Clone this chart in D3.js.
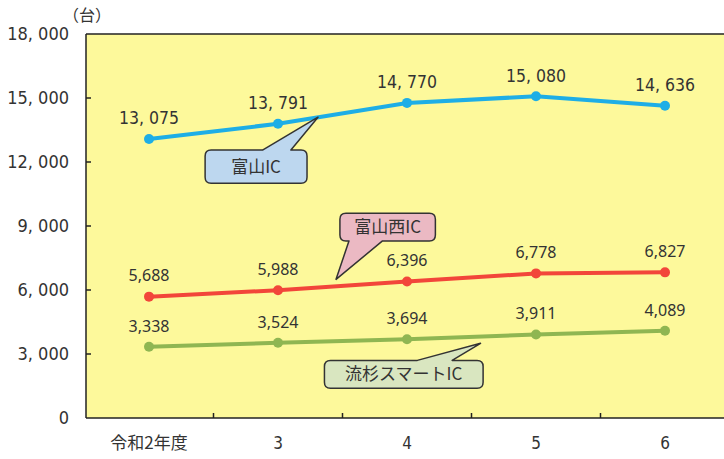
<!DOCTYPE html>
<html><head><meta charset="utf-8">
<script src="https://cdn.jsdelivr.net/npm/d3@7"></script>
<style>
body{margin:0;background:#fff;}
svg{display:block;}
</style></head>
<body>
<svg id="chart" width="724" height="459"></svg>
<script>
const categories = ["令和2年度", "3", "4", "5", "6"];
const toyamaIC = [13075, 13791, 14770, 15080, 14636];
const toyamaNishiIC = [5688, 5988, 6396, 6778, 6827];
const nagareSugiIC = [3338, 3524, 3694, 3911, 4089];
const yTicks = [0, 3000, 6000, 9000, 12000, 15000, 18000];
const seriesNames = ["富山IC", "富山西IC", "流杉スマートIC"];
const unitLabel = "（台）";

(function () {
const svg = d3.select("#chart");
const pLeft = 86, pTop = 34, pBottom = 418, pRight = 724;

const x = d3.scaleBand().domain(categories).range([84.5, 729.5]);
const y = d3.scaleLinear().domain([0, 18000]).range([pBottom, pTop]);
const cx = c => x(c) + x.bandwidth() / 2;

svg.append("rect").attr("x", pLeft).attr("y", pTop).attr("width", pRight - pLeft).attr("height", pBottom - pTop)
  .attr("fill", "#fdf99b");
svg.append("line").attr("x1", pLeft).attr("x2", pRight).attr("y1", pTop).attr("y2", pTop).attr("stroke", "#222").attr("stroke-width", 1.5);
svg.append("line").attr("x1", pLeft).attr("x2", pRight).attr("y1", pBottom).attr("y2", pBottom).attr("stroke", "#222").attr("stroke-width", 1.5);
svg.append("line").attr("x1", pLeft).attr("x2", pLeft).attr("y1", pTop).attr("y2", pBottom).attr("stroke", "#222").attr("stroke-width", 1.5);

const numFont = "'DejaVu Sans Condensed', 'DejaVu Sans', sans-serif";
const fmtSp = d => d3.format(",")(d).replace(",", ", ");

const yAxis = svg.append("g");
yAxis.selectAll("line").data(yTicks.filter(d => d > 0 && d < 18000)).join("line")
  .attr("x1", pLeft).attr("x2", pLeft + 5).attr("y1", d => y(d)).attr("y2", d => y(d))
  .attr("stroke", "#222").attr("stroke-width", 1.5);
yAxis.selectAll("text").data(yTicks).join("text")
  .attr("x", 69).attr("y", d => y(d)).attr("dy", "0.36em").attr("text-anchor", "end")
  .attr("font-family", numFont).attr("font-size", 18).attr("fill", "#333")
  .text(d => d === 0 ? "0" : fmtSp(d));
svg.append("text").attr("x", 87).attr("y", 21).attr("text-anchor", "middle")
  .attr("font-family", "'Noto Sans CJK JP', sans-serif").attr("font-size", 16).attr("fill", "#333")
  .text(unitLabel);

const xb = categories.slice(1).map(c => x(c));
svg.append("g").selectAll("line").data(xb).join("line")
  .attr("x1", d => d).attr("x2", d => d).attr("y1", pBottom).attr("y2", pBottom - 5)
  .attr("stroke", "#222").attr("stroke-width", 1.5);
svg.append("g").selectAll("text").data(categories).join("text")
  .attr("x", d => cx(d)).attr("y", 449).attr("text-anchor", "middle")
  .attr("font-family", (d, i) => i === 0 ? "'Noto Sans CJK JP', sans-serif" : numFont)
  .attr("font-size", 17).attr("fill", "#333")
  .text(d => d);

const series = [
  {vals: toyamaIC, color: "#1eaee6", font: numFont, size: 17.5, fmt: fmtSp},
  {vals: toyamaNishiIC, color: "#f2463a", font: "'Noto Sans', sans-serif", size: 16, fmt: d3.format(",")},
  {vals: nagareSugiIC, color: "#8fb652", font: "'Noto Sans', sans-serif", size: 16, fmt: d3.format(",")}
];
const line = d3.line().x((d, i) => cx(categories[i])).y(d => y(d));
series.forEach(s => {
  svg.append("path").datum(s.vals).attr("d", line).attr("fill", "none")
    .attr("stroke", s.color).attr("stroke-width", 4).attr("stroke-linecap", "round");
  svg.append("g").selectAll("circle").data(s.vals).join("circle")
    .attr("cx", (d, i) => cx(categories[i])).attr("cy", d => y(d)).attr("r", 5)
    .attr("fill", s.color);
  svg.append("g").selectAll("text").data(s.vals).join("text")
    .attr("x", (d, i) => cx(categories[i])).attr("y", d => y(d) - 21).attr("dy", "0.36em")
    .attr("text-anchor", "middle").attr("font-family", s.font).attr("font-size", s.size)
    .attr("fill", "#333").text(d => s.fmt(d));
});

const callouts = [
  {name: seriesNames[0], fill: "#bdd7ef", box: [0.435, 1.225], boxY: [12560, 11000], tip: [1.31, 14100], base: [0.88, 1.10], side: "top"},
  {name: seriesNames[1], fill: "#ebb9c3", box: [1.48, 2.22], boxY: [9600, 8300], tip: [1.45, 6500], base: [1.55, 1.81], side: "bottom"},
  {name: seriesNames[2], fill: "#d9e6c0", box: [1.36, 2.59], boxY: [2700, 1400], tip: [2.57, 3500], base: [2.08, 2.35], side: "top"}
];
const xi = v => cx(categories[0]) + v * x.bandwidth();
callouts.forEach(c => {
  const x0 = xi(c.box[0]), x1 = xi(c.box[1]);
  const y0 = y(c.boxY[0]), y1 = y(c.boxY[1]);
  const r = 6;
  const bx0 = xi(c.base[0]), bx1 = xi(c.base[1]);
  const tx = xi(c.tip[0]), ty = y(c.tip[1]);
  const p = d3.path();
  if (c.side === "top") {
    p.moveTo(x0 + r, y0);
    p.lineTo(bx0, y0); p.lineTo(tx, ty); p.lineTo(bx1, y0);
    p.lineTo(x1 - r, y0); p.quadraticCurveTo(x1, y0, x1, y0 + r);
    p.lineTo(x1, y1 - r); p.quadraticCurveTo(x1, y1, x1 - r, y1);
    p.lineTo(x0 + r, y1); p.quadraticCurveTo(x0, y1, x0, y1 - r);
    p.lineTo(x0, y0 + r); p.quadraticCurveTo(x0, y0, x0 + r, y0);
  } else {
    p.moveTo(x0 + r, y0);
    p.lineTo(x1 - r, y0); p.quadraticCurveTo(x1, y0, x1, y0 + r);
    p.lineTo(x1, y1 - r); p.quadraticCurveTo(x1, y1, x1 - r, y1);
    p.lineTo(bx1, y1); p.lineTo(tx, ty); p.lineTo(bx0, y1);
    p.lineTo(x0 + r, y1); p.quadraticCurveTo(x0, y1, x0, y1 - r);
    p.lineTo(x0, y0 + r); p.quadraticCurveTo(x0, y0, x0 + r, y0);
  }
  p.closePath();
  svg.append("path").attr("d", p.toString()).attr("fill", c.fill)
    .attr("stroke", "#333").attr("stroke-width", 1.5).attr("stroke-linejoin", "round");
  svg.append("text").attr("x", (x0 + x1) / 2).attr("y", (y0 + y1) / 2).attr("dy", "0.36em")
    .attr("text-anchor", "middle").attr("font-family", "'Noto Sans CJK JP', sans-serif")
    .attr("font-size", 17).attr("fill", "#333").text(c.name);
});
})();
</script>
</body></html>
